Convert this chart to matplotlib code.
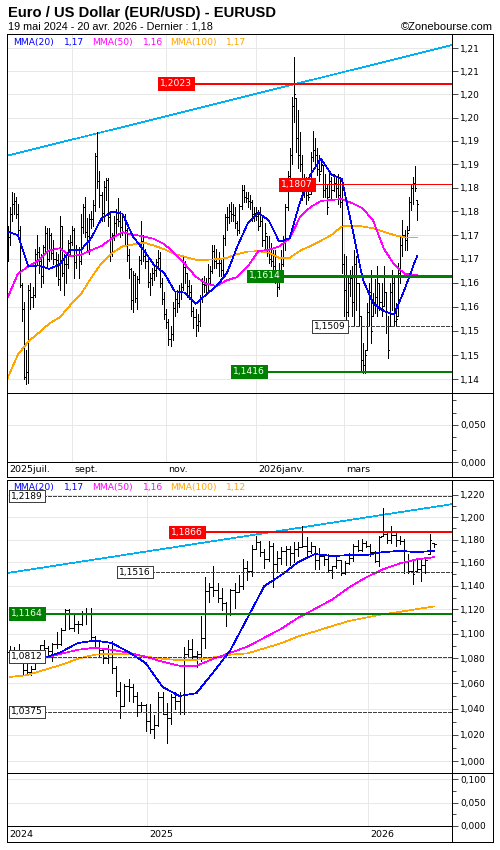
import numpy as np
import pandas as pd
import matplotlib
matplotlib.use('Agg')
from matplotlib import pyplot as plt
import matplotlib.dates as mdates
from matplotlib import transforms
from matplotlib.collections import LineCollection
from matplotlib.ticker import FixedLocator, FuncFormatter, NullFormatter

# ---------------- daily chart (top) ----------------
day_dates = pd.bdate_range('2025-07-18', '2026-04-20')
day_high = [
    1.1718, 1.1760, 1.1790, 1.1788, 1.1780, 1.1765, 1.1720, 1.1600, 1.1560, 1.1460,
    1.1595, 1.1600, 1.1590, 1.1670, 1.1700, 1.1675, 1.1660, 1.1680, 1.1720, 1.1715,
    1.1715, 1.1705, 1.1690, 1.1665, 1.1660, 1.1740, 1.1720, 1.1660, 1.1655, 1.1690,
    1.1700, 1.1720, 1.1715, 1.1680, 1.1675, 1.1745, 1.1765, 1.1780, 1.1735, 1.1745,
    1.1750, 1.1775, 1.1875, 1.1918, 1.1835, 1.1790, 1.1815, 1.1820, 1.1820, 1.1745,
    1.1705, 1.1740, 1.1755, 1.1778, 1.1750, 1.1745, 1.1745, 1.1715, 1.1670, 1.1630,
    1.1625, 1.1620, 1.1615, 1.1655, 1.1730, 1.1700, 1.1670, 1.1650, 1.1620, 1.1630,
    1.1640, 1.1650, 1.1668, 1.1665, 1.1610, 1.1580, 1.1545, 1.1525, 1.1510, 1.1560,
    1.1580, 1.1585, 1.1595, 1.1600, 1.1655, 1.1645, 1.1620, 1.1605, 1.1595, 1.1550,
    1.1545, 1.1535, 1.1575, 1.1610, 1.1615, 1.1610, 1.1640, 1.1635, 1.1680, 1.1680,
    1.1670, 1.1665, 1.1650, 1.1700, 1.1745, 1.1760, 1.1765, 1.1770, 1.1765, 1.1760,
    1.1730, 1.1765, 1.1805, 1.1805, 1.1790, 1.1790, 1.1785, 1.1775, 1.1760,
    1.1759, 1.1752, 1.1759, 1.1738, 1.1725, 1.1697, 1.1697, 1.1683, 1.1669, 1.1669,
    1.1627, 1.1641, 1.1669, 1.1697, 1.1766, 1.1835, 1.1884, 1.1995, 1.2081, 1.1993,
    1.1967, 1.1919, 1.1870, 1.1829, 1.1822, 1.1794, 1.1877, 1.1922, 1.1905, 1.1884,
    1.1870, 1.1863, 1.1849, 1.1829, 1.1808, 1.1829, 1.1822, 1.1829, 1.1822, 1.1829,
    1.1822, 1.1805, 1.1660, 1.1655, 1.1614, 1.1627, 1.1634, 1.1669, 1.1655, 1.1600,
    1.1530, 1.1475, 1.1461, 1.1558, 1.1600, 1.1627, 1.1579, 1.1607, 1.1634, 1.1600,
    1.1600, 1.1634, 1.1580, 1.1530, 1.1600, 1.1627, 1.1614, 1.1558, 1.1641, 1.1697,
    1.1731, 1.1711, 1.1718, 1.1780, 1.1808, 1.1822, 1.1846, 1.1773]
day_low = [
    1.1645, 1.1680, 1.1730, 1.1745, 1.1735, 1.1700, 1.1590, 1.1520, 1.1400, 1.1390,
    1.1392, 1.1545, 1.1550, 1.1570, 1.1640, 1.1620, 1.1590, 1.1600, 1.1660, 1.1630,
    1.1645, 1.1650, 1.1640, 1.1615, 1.1595, 1.1585, 1.1615, 1.1575, 1.1600, 1.1630,
    1.1660, 1.1680, 1.1610, 1.1630, 1.1610, 1.1640, 1.1705, 1.1695, 1.1665, 1.1660,
    1.1715, 1.1720, 1.1750, 1.1800, 1.1760, 1.1730, 1.1730, 1.1775, 1.1720, 1.1645,
    1.1655, 1.1690, 1.1700, 1.1720, 1.1695, 1.1700, 1.1680, 1.1645, 1.1610, 1.1545,
    1.1540, 1.1560, 1.1545, 1.1600, 1.1640, 1.1645, 1.1630, 1.1590, 1.1575, 1.1595,
    1.1605, 1.1615, 1.1630, 1.1590, 1.1555, 1.1525, 1.1505, 1.1470, 1.1468, 1.1480,
    1.1530, 1.1540, 1.1550, 1.1565, 1.1585, 1.1600, 1.1570, 1.1565, 1.1530, 1.1505,
    1.1490, 1.1500, 1.1510, 1.1560, 1.1580, 1.1580, 1.1585, 1.1600, 1.1620, 1.1630,
    1.1630, 1.1615, 1.1615, 1.1615, 1.1680, 1.1710, 1.1725, 1.1730, 1.1730, 1.1715,
    1.1700, 1.1705, 1.1755, 1.1770, 1.1770, 1.1760, 1.1755, 1.1730, 1.1730,
    1.1731, 1.1711, 1.1718, 1.1676, 1.1669, 1.1655, 1.1641, 1.1634, 1.1614, 1.1600,
    1.1572, 1.1586, 1.1607, 1.1634, 1.1669, 1.1752, 1.1822, 1.1850, 1.1940, 1.1877,
    1.1842, 1.1835, 1.1773, 1.1780, 1.1766, 1.1773, 1.1787, 1.1856, 1.1849, 1.1828,
    1.1815, 1.1835, 1.1780, 1.1780, 1.1745, 1.1780, 1.1773, 1.1794, 1.1780, 1.1766,
    1.1759, 1.1620, 1.1530, 1.1510, 1.1530, 1.1572, 1.1530, 1.1510, 1.1544, 1.1510,
    1.1419, 1.1413, 1.1413, 1.1461, 1.1510, 1.1475, 1.1530, 1.1537, 1.1530, 1.1544,
    1.1530, 1.1551, 1.1496, 1.1444, 1.1510, 1.1544, 1.1510, 1.1510, 1.1530, 1.1600,
    1.1655, 1.1669, 1.1669, 1.1711, 1.1752, 1.1766, 1.1794, 1.1731]
day_close = [
    1.1695, 1.1745, 1.1765, 1.1772, 1.1745, 1.1710, 1.1595, 1.1545, 1.1405, 1.1415,
    1.1585, 1.1570, 1.1575, 1.1660, 1.1665, 1.1645, 1.1615, 1.1675, 1.1705, 1.1650,
    1.1700, 1.1662, 1.1650, 1.1648, 1.1608, 1.1718, 1.1620, 1.1640, 1.1640, 1.1683,
    1.1686, 1.1710, 1.1644, 1.1659, 1.1646, 1.1717, 1.1760, 1.1706, 1.1697, 1.1733,
    1.1733, 1.1763, 1.1867, 1.1815, 1.1785, 1.1746, 1.1802, 1.1817, 1.1737, 1.1664,
    1.1700, 1.1726, 1.1734, 1.1730, 1.1717, 1.1741, 1.1710, 1.1658, 1.1628, 1.1563,
    1.1617, 1.1569, 1.1607, 1.1647, 1.1688, 1.1655, 1.1645, 1.1601, 1.1609, 1.1620,
    1.1627, 1.1643, 1.1652, 1.1600, 1.1565, 1.1535, 1.1518, 1.1483, 1.1494, 1.1548,
    1.1565, 1.1557, 1.1583, 1.1591, 1.1632, 1.1620, 1.1593, 1.1581, 1.1541, 1.1529,
    1.1513, 1.1521, 1.1569, 1.1598, 1.1595, 1.1598, 1.1610, 1.1624, 1.1667, 1.1645,
    1.1642, 1.1641, 1.1627, 1.1694, 1.1739, 1.1739, 1.1750, 1.1745, 1.1742, 1.1725,
    1.1710, 1.1762, 1.1795, 1.1780, 1.1778, 1.1772, 1.1770, 1.1745, 1.1747,
    1.1740, 1.1720, 1.1730, 1.1690, 1.1705, 1.1665, 1.1650, 1.1645, 1.1635, 1.1615,
    1.1590, 1.1625, 1.1640, 1.1685, 1.1760, 1.1825, 1.1870, 1.1975, 1.2000, 1.1905,
    1.1870, 1.1850, 1.1790, 1.1800, 1.1785, 1.1780, 1.1865, 1.1880, 1.1870, 1.1840,
    1.1830, 1.1850, 1.1795, 1.1800, 1.1760, 1.1815, 1.1795, 1.1810, 1.1800, 1.1785,
    1.1770, 1.1640, 1.1585, 1.1540, 1.1600, 1.1610, 1.1560, 1.1640, 1.1600, 1.1530,
    1.1440, 1.1430, 1.1450, 1.1540, 1.1580, 1.1500, 1.1560, 1.1570, 1.1600, 1.1560,
    1.1545, 1.1580, 1.1510, 1.1460, 1.1580, 1.1600, 1.1520, 1.1525, 1.1620, 1.1680,
    1.1700, 1.1690, 1.1705, 1.1770, 1.1800, 1.1810, 1.1800, 1.1765]

# moving averages every 5 sessions (and the last one)
day_ma_pos = list(range(0, 196, 5)) + [196]
day_mma20 = [
    1.1707, 1.1700, 1.1634, 1.1636, 1.1629, 1.1638, 1.1668, 1.1668, 1.1693, 1.1735,
    1.1749, 1.1745, 1.1697, 1.1669, 1.1638, 1.1620, 1.1582, 1.1579, 1.1556, 1.1575,
    1.1593, 1.1620, 1.1676, 1.1725, 1.1747, 1.1731, 1.1686, 1.1693, 1.1770, 1.1828,
    1.1862, 1.1828, 1.1818, 1.1714, 1.1607, 1.1557, 1.1541, 1.1534, 1.1586, 1.1645,
    1.1655]
day_mma50 = [
    1.1568, 1.1619, 1.1634, 1.1647, 1.1668, 1.1672, 1.1656, 1.1658, 1.1668, 1.1677,
    1.1693, 1.1706, 1.1701, 1.1697, 1.1692, 1.1681, 1.1661, 1.1638, 1.1613, 1.1598,
    1.1593, 1.1605, 1.1612, 1.1634, 1.1666, 1.1669, 1.1676, 1.1693, 1.1738, 1.1759,
    1.1772, 1.1774, 1.1776, 1.1767, 1.1756, 1.1730, 1.1672, 1.1638, 1.1619, 1.1616,
    1.1616]
day_mma100 = [
    1.1402, 1.1451, 1.1478, 1.1496, 1.1515, 1.1528, 1.1553, 1.1575, 1.1610, 1.1641,
    1.1662, 1.1676, 1.1680, 1.1684, 1.1678, 1.1670, 1.1660, 1.1654, 1.1648, 1.1648,
    1.1649, 1.1652, 1.1660, 1.1665, 1.1666, 1.1663, 1.1652, 1.1652, 1.1667, 1.1677,
    1.1688, 1.1700, 1.1718, 1.1720, 1.1718, 1.1714, 1.1707, 1.1700, 1.1695, 1.1695,
    1.1695]
day_levels = [1.2023, 1.1807, 1.1614, 1.1509, 1.1416]
day_trend = [1.1868, 1.2107]          # left / right edge of the panel
day_month_dates = ['2025-07-01', '2025-09-01', '2025-11-01', '2026-01-01', '2026-03-01']
day_month_labels = ['2025juil.', 'sept.', 'nov.', '2026janv.', 'mars']

# ---------------- weekly chart (bottom) ----------------
week_dates = pd.date_range('2024-05-20', '2026-04-20', freq='W-MON')
week_high = [
    1.0895, 1.0889, 1.0916, 1.0852, 1.0762, 1.0739, 1.0845, 1.0910, 1.0948, 1.0895,
    1.0926, 1.1009, 1.1047, 1.1201, 1.1202, 1.1155, 1.1100, 1.1190, 1.1214, 1.1209,
    1.0981, 1.0940, 1.0870, 1.0905, 1.0937, 1.0737, 1.0609, 1.0597, 1.0630, 1.0594,
    1.0530, 1.0456, 1.0436, 1.0437, 1.0353, 1.0533, 1.0533, 1.0442, 1.0513, 1.0528,
    1.0530, 1.0889, 1.0947, 1.0955, 1.0858, 1.1146, 1.1474, 1.1425, 1.1573, 1.1425,
    1.1380, 1.1266, 1.1375, 1.1420, 1.1495, 1.1631, 1.1614, 1.1754, 1.1830, 1.1790,
    1.1720, 1.1789, 1.1772, 1.1700, 1.1730, 1.1740, 1.1740, 1.1780, 1.1780, 1.1918,
    1.1819, 1.1778, 1.1745, 1.1728, 1.1670, 1.1669, 1.1570, 1.1655, 1.1620, 1.1615,
    1.1680, 1.1760, 1.1800, 1.1808, 1.1790, 1.1760, 1.1697, 1.1835, 1.2081, 1.1870,
    1.1922, 1.1863, 1.1829, 1.1805, 1.1669, 1.1627, 1.1634, 1.1627, 1.1641, 1.1846,
    1.1773]
week_low = [
    1.0805, 1.0788, 1.0791, 1.0668, 1.0671, 1.0666, 1.0710, 1.0790, 1.0870, 1.0825,
    1.0777, 1.0880, 1.0910, 1.1030, 1.1035, 1.1025, 1.1002, 1.1070, 1.1081, 1.0950,
    1.0900, 1.0810, 1.0761, 1.0760, 1.0683, 1.0496, 1.0332, 1.0420, 1.0460, 1.0453,
    1.0344, 1.0380, 1.0226, 1.0215, 1.0178, 1.0266, 1.0359, 1.0141, 1.0285, 1.0400,
    1.0359, 1.0360, 1.0806, 1.0798, 1.0733, 1.0778, 1.0880, 1.1265, 1.1315, 1.1265,
    1.1193, 1.1065, 1.1150, 1.1210, 1.1350, 1.1372, 1.1445, 1.1480, 1.1716, 1.1660,
    1.1556, 1.1614, 1.1391, 1.1527, 1.1590, 1.1580, 1.1574, 1.1608, 1.1660, 1.1730,
    1.1645, 1.1680, 1.1541, 1.1543, 1.1576, 1.1520, 1.1468, 1.1550, 1.1491, 1.1500,
    1.1590, 1.1615, 1.1700, 1.1700, 1.1730, 1.1655, 1.1600, 1.1572, 1.1835, 1.1766,
    1.1773, 1.1745, 1.1759, 1.1510, 1.1510, 1.1413, 1.1530, 1.1444, 1.1510, 1.1669,
    1.1731]
week_close = [
    1.0847, 1.0848, 1.0801, 1.0703, 1.0692, 1.0713, 1.0841, 1.0907, 1.0882, 1.0855,
    1.0911, 1.0918, 1.1027, 1.1192, 1.1048, 1.1083, 1.1075, 1.1163, 1.1164, 1.0974,
    1.0937, 1.0866, 1.0798, 1.0834, 1.0720, 1.0541, 1.0418, 1.0577, 1.0568, 1.0500,
    1.0430, 1.0428, 1.0308, 1.0244, 1.0272, 1.0495, 1.0363, 1.0329, 1.0492, 1.0459,
    1.0376, 1.0834, 1.0877, 1.0815, 1.0836, 1.0961, 1.1359, 1.1393, 1.1365, 1.1298,
    1.1251, 1.1164, 1.1364, 1.1347, 1.1397, 1.1550, 1.1523, 1.1719, 1.1777, 1.1690,
    1.1626, 1.1741, 1.1586, 1.1642, 1.1700, 1.1718, 1.1686, 1.1717, 1.1733, 1.1746,
    1.1700, 1.1741, 1.1617, 1.1655, 1.1627, 1.1535, 1.1565, 1.1620, 1.1513, 1.1598,
    1.1642, 1.1739, 1.1710, 1.1772, 1.1747, 1.1690, 1.1615, 1.1825, 1.1850, 1.1800,
    1.1840, 1.1800, 1.1785, 1.1600, 1.1530, 1.1500, 1.1545, 1.1580, 1.1620, 1.1800,
    1.1765]

# moving averages every 4 weeks
week_ma_pos = list(range(0, 101, 4))
week_mma20 = [
    1.0790, 1.0795, 1.0801, 1.0849, 1.0923, 1.0943, 1.0923, 1.0849, 1.0761, 1.0570,
    1.0499, 1.0522, 1.0689, 1.0865, 1.1128, 1.1397, 1.1491, 1.1603, 1.1673, 1.1655,
    1.1664, 1.1664, 1.1690, 1.1700, 1.1690, 1.1700]
week_mma50 = [
    1.0801, 1.0801, 1.0801, 1.0835, 1.0868, 1.0884, 1.0868, 1.0844, 1.0812, 1.0771,
    1.0739, 1.0739, 1.0795, 1.0844, 1.0893, 1.0966, 1.1040, 1.1131, 1.1206, 1.1283,
    1.1385, 1.1471, 1.1540, 1.1592, 1.1627, 1.1645]
week_mma100 = [
    1.0650, 1.0664, 1.0705, 1.0745, 1.0795, 1.0828, 1.0836, 1.0833, 1.0813, 1.0795,
    1.0784, 1.0787, 1.0806, 1.0828, 1.0839, 1.0880, 1.0921, 1.0977, 1.1018, 1.1062,
    1.1104, 1.1132, 1.1160, 1.1180, 1.1203, 1.1225]
week_levels = [1.2189, 1.1866, 1.1516, 1.1164, 1.0812, 1.0375]
week_trend = [1.1508, 1.2116]
week_year_dates = ['2024-01-01', '2025-01-01', '2026-01-01']
week_year_labels = ['2024', '2025', '2026']

W, H = 500, 850
BLUE, MAGENTA, ORANGE = '#0000ff', '#ff00ff', '#ffa500'
GRID = '#e8e8e8'
FS = 6.6
THIN = 0.5      # ~1 device pixel without antialiasing

plt.rcParams['font.family'] = 'DejaVu Sans'
plt.rcParams['lines.antialiased'] = False
plt.rcParams['patch.antialiased'] = False
plt.rcParams['lines.scale_dashes'] = False


def rect(left, top, right, bottom):
    # pixel box -> figure fraction
    return [left / W, 1 - bottom / H, (right - left) / W, (bottom - top) / H]


def fmt_price(v, nd):
    return f'{v + 1e-9:.{nd}f}'.replace('.', ',')


def draw_bars(ax, x, high, low, close, half):
    high, low, close = np.asarray(high), np.asarray(low), np.asarray(close)
    # forex: a bar opens where the previous one closed
    opens = np.clip(np.r_[close[0], close[:-1]], low, high)
    segs = []
    for xi, o, h, l, c in zip(x, opens, high, low, close):
        segs += [[(xi, l), (xi, h)], [(xi - half, o), (xi, o)], [(xi, c), (xi + half, c)]]
    ax.add_collection(LineCollection(segs, colors='black', linewidths=THIN,
                                     antialiased=False, zorder=3))


def style_axis(ax, major, minor, fmt):
    ax.yaxis.set_major_locator(FixedLocator(major))
    ax.yaxis.set_minor_locator(FixedLocator(minor))
    ax.yaxis.set_major_formatter(FuncFormatter(lambda v, p: fmt(v)))
    ax.yaxis.set_minor_formatter(NullFormatter())
    ax.yaxis.tick_right()
    ax.tick_params(axis='y', which='major', length=4, width=THIN, pad=2, labelsize=6.5)
    ax.tick_params(axis='y', which='minor', length=2.6, width=THIN)
    ax.set_xticks([])
    ax.grid(axis='y', which='major', color=GRID, lw=THIN)
    ax.set_axisbelow(True)
    for s in ax.spines.values():
        s.set_visible(False)
    ax.patch.set_alpha(0)


def draw_level(ax, value, x_px, style):
    blend = transforms.blended_transform_factory(ax.transAxes, ax.transData)
    xf = (x_px - 7) / 445
    if style == 'dash':
        ax.plot([xf, 1], [value, value], transform=blend, color='#404040', lw=THIN,
                ls=(0, (2.2, 1.4)), zorder=4)
        ax.text(xf, value, fmt_price(value, 4), transform=blend, ha='right', va='center',
                fontsize=FS, color='black', zorder=6,
                bbox=dict(boxstyle='square,pad=0.2', fc='white', ec='#404040', lw=THIN))
    else:
        color, lw = style
        ax.plot([xf, 1], [value, value], transform=blend, color=color, lw=lw, zorder=4,
                solid_capstyle='butt')
        ax.text(xf, value, fmt_price(value, 4), transform=blend, ha='right', va='center',
                fontsize=FS, color='white', zorder=6,
                bbox=dict(boxstyle='square,pad=0.2', fc=color, ec=color, lw=THIN))


def strip_labels(ax, xs, labels, yfrac, xmin):
    trans = transforms.blended_transform_factory(ax.transData, ax.transAxes)
    trans = transforms.offset_copy(trans, fig=fig, x=2, y=0, units='dots')
    for x, lab in zip(xs, labels):
        ax.text(max(x, xmin), yfrac, lab, transform=trans, ha='left', va='center',
                fontsize=6.8, clip_on=False)


fig = plt.figure(figsize=(W / 100, H / 100), dpi=100)

# ===== top: daily =====
ax1 = fig.add_axes(rect(7, 34, 452, 393))
xi = np.arange(len(day_dates))
x_lim = (-0.24, 212.7)
ax1.set_xlim(*x_lim)
ax1.set_yscale('log')
ax1.set_ylim(1.1372, 1.2131)
style_axis(ax1, np.arange(1.140, 1.2101, 0.005), [], lambda v: fmt_price(v, 2))

month_pos = [int(np.searchsorted(day_dates, pd.Timestamp(d))) for d in day_month_dates]
for p, d in zip(month_pos, day_month_dates):
    if pd.Timestamp(d) >= day_dates[0]:
        ax1.axvline(p, color=GRID, lw=THIN, zorder=0)

blend1 = transforms.blended_transform_factory(ax1.transAxes, ax1.transData)
ax1.plot([0, 1], day_trend, transform=blend1, color='#00b0f0', lw=THIN, zorder=2)
draw_bars(ax1, xi, day_high, day_low, day_close, 0.5)
ax1.plot(day_ma_pos, day_mma100, color=ORANGE, lw=THIN, zorder=4)
ax1.plot(day_ma_pos, day_mma50, color=MAGENTA, lw=THIN, zorder=4)
ax1.plot(day_ma_pos, day_mma20, color=BLUE, lw=THIN, zorder=4)

top_styles = [('#ff0000', 1.3), ('#ff0000', 0.7), ('#008000', 0.9), 'dash', ('#008000', 1.3)]
top_label_x = [192, 313, 281, 346, 265]
for v, st, xp in zip(day_levels, top_styles, top_label_x):
    draw_level(ax1, v, xp, st)

ax1v = fig.add_axes(rect(7, 393, 452, 462))
ax1v.set_xlim(*x_lim)
ax1v.set_ylim(0, 0.0932)
style_axis(ax1v, [0, 0.05], [1 / 60, 2 / 60, 4 / 60, 5 / 60], lambda v: fmt_price(v, 3))
for p, d in zip(month_pos, day_month_dates):
    if pd.Timestamp(d) >= day_dates[0]:
        ax1v.axvline(p, color=GRID, lw=THIN, zorder=0)
strip_labels(ax1v, month_pos, day_month_labels, -0.109, x_lim[0])

# ===== bottom: weekly =====
wx = mdates.date2num(week_dates)
w_lim = (mdates.date2num(pd.Timestamp('2024-05-15')), mdates.date2num(pd.Timestamp('2026-05-20')))
ax2 = fig.add_axes(rect(7, 480, 452, 773))
ax2.set_xlim(*w_lim)
ax2.set_yscale('log')
ax2.set_ylim(0.9913, 1.2336)
style_axis(ax2, np.arange(1.00, 1.2201, 0.02), np.arange(1.01, 1.2201, 0.02),
           lambda v: fmt_price(v, 3))
year_x = [mdates.date2num(pd.Timestamp(d)) for d in week_year_dates]
for x in year_x[1:]:
    ax2.axvline(x, color=GRID, lw=THIN, zorder=0)

blend2 = transforms.blended_transform_factory(ax2.transAxes, ax2.transData)
ax2.plot([0, 1], week_trend, transform=blend2, color='#00b0f0', lw=THIN, zorder=2)
draw_bars(ax2, wx, week_high, week_low, week_close, 3.0)
wma_x = wx[week_ma_pos]
ax2.plot(wma_x, week_mma100, color=ORANGE, lw=THIN, zorder=4)
ax2.plot(wma_x, week_mma50, color=MAGENTA, lw=THIN, zorder=4)
ax2.plot(wma_x, week_mma20, color=BLUE, lw=THIN, zorder=4)

bot_styles = ['dash', ('#ff0000', 1.3), 'dash', ('#008000', 1.3), 'dash', 'dash']
bot_label_x = [43, 203, 151, 43, 43, 43]
for v, st, xp in zip(week_levels, bot_styles, bot_label_x):
    draw_level(ax2, v, xp, st)

ax2v = fig.add_axes(rect(7, 773, 452, 826))
ax2v.set_xlim(*w_lim)
ax2v.set_ylim(0, 0.1128)
style_axis(ax2v, [0, 0.05, 0.1], [0.025, 0.075], lambda v: fmt_price(v, 3))
for x in year_x[1:]:
    ax2v.axvline(x, color=GRID, lw=THIN, zorder=0)
strip_labels(ax2v, year_x, week_year_labels, -0.151, w_lim[0])

# ===== frames, titles, legends (pixel coordinates) =====
bg = fig.add_axes([0, 0, 1, 1], zorder=10)
bg.set_xlim(0, W)
bg.set_ylim(H, 0)
bg.axis('off')
bg.patch.set_alpha(0)

frame = [
    ((7, 34), (493, 34)), ((7, 477), (493, 477)), ((7, 34), (7, 477)), ((493, 34), (493, 477)),
    ((452, 34), (452, 477)), ((7, 393), (493, 393)), ((7, 462), (452, 462)),
    ((7, 480), (493, 480)), ((7, 842), (493, 842)), ((7, 480), (7, 842)), ((493, 480), (493, 842)),
    ((452, 480), (452, 842)), ((7, 773), (493, 773)), ((7, 826), (452, 826)),
]
bg.add_collection(LineCollection(frame, colors='black', linewidths=0.6, antialiased=False))

bg.text(8, 12.5, 'Euro / US Dollar (EUR/USD) - EURUSD', fontsize=10.6, fontweight='bold',
        family='Liberation Sans', va='center', ha='left')
bg.text(8, 26.5, '19 mai 2024 - 20 avr. 2026 - Dernier : ' + fmt_price(day_close[-1], 2),
        fontsize=7.8, family='Liberation Sans', va='center', ha='left')
bg.text(493, 26.5, '\u00a9Zonebourse.com', fontsize=8.0, family='Liberation Sans',
        va='center', ha='right')

for y, mas in [(42, (day_mma20, day_mma50, day_mma100)),
               (487, (week_mma20, week_mma50, week_mma100))]:
    items = [(13, 'MMA(20)', BLUE), (64, fmt_price(mas[0][-1], 2), BLUE),
             (92, 'MMA(50)', MAGENTA), (143, fmt_price(mas[1][-1], 2), MAGENTA),
             (170, 'MMA(100)', ORANGE), (226, fmt_price(mas[2][-1], 2), ORANGE)]
    for x, txt, col in items:
        bg.text(x, y, txt, color=col, fontsize=FS, va='center', ha='left')

fig.savefig('out.png', dpi=100)
